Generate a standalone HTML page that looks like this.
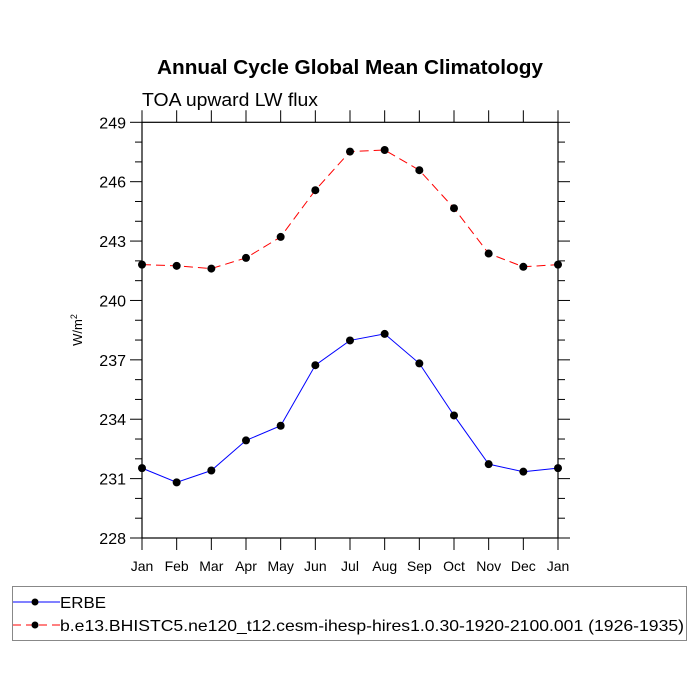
<!DOCTYPE html>
<html><head><meta charset="utf-8"><style>body{margin:0;background:#fff}svg{display:block}</style></head>
<body>
<svg id="chart" width="700" height="700" xmlns="http://www.w3.org/2000/svg" font-family="Liberation Sans, sans-serif">
<rect width="700" height="700" fill="#fff"/>
<text x="350" y="74" text-anchor="middle" font-size="20" font-weight="bold" textLength="386" lengthAdjust="spacingAndGlyphs">Annual Cycle Global Mean Climatology</text>
<text x="142" y="106" font-size="18" textLength="176" lengthAdjust="spacingAndGlyphs">TOA upward LW flux</text>
<text transform="translate(82,330) rotate(-90)" text-anchor="middle" font-size="13">W/m<tspan dy="-5" font-size="9">2</tspan></text>
<g id="axes"></g>
<g id="series"></g>
<g>
<rect x="12.5" y="586.5" width="674" height="54" fill="none" stroke="#888" stroke-width="1"/>
<g>
<line x1="13" y1="602" x2="60" y2="602" stroke="blue" stroke-width="1"/>
<circle cx="35" cy="602" r="3.5" fill="#000"/>
<text x="60" y="608" font-size="16" textLength="46" lengthAdjust="spacingAndGlyphs">ERBE</text>
</g>
<g>
<line x1="13" y1="625" x2="60" y2="625" stroke="red" stroke-width="1" stroke-dasharray="8,5"/>
<circle cx="35" cy="625" r="3.5" fill="#000"/>
<text x="60" y="631" font-size="16" textLength="624" lengthAdjust="spacingAndGlyphs">b.e13.BHISTC5.ne120_t12.cesm-ihesp-hires1.0.30-1920-2100.001 (1926-1935)</text>
</g>
</g>
</svg>
<script>
const months = ["Jan","Feb","Mar","Apr","May","Jun","Jul","Aug","Sep","Oct","Nov","Dec","Jan"];
const erbeValues = [231.53,230.81,231.41,232.93,233.67,236.73,237.98,238.31,236.82,234.19,231.73,231.35,231.53];
const modelValues = [241.81,241.75,241.61,242.15,243.21,245.57,247.52,247.60,246.58,244.66,242.37,241.70,241.81];
const yTickLabels = [228,231,234,237,240,243,246,249];

const NS="http://www.w3.org/2000/svg";
const L=142,R=558,T=122.3,B=538,yMin=228,yMax=249;
const xs=i=>L+(R-L)*i/(months.length-1);
const ys=v=>B-(v-yMin)/(yMax-yMin)*(B-T);
function mk(tag,attrs,parent){const e=document.createElementNS(NS,tag);for(const k in attrs)e.setAttribute(k,attrs[k]);parent.appendChild(e);return e;}
const axes=document.getElementById('axes');
const frame=mk('rect',{x:L,y:T,width:R-L,height:B-T,fill:'none',stroke:'#000','stroke-width':1.2},axes);


for(let v=yMin;v<=yMax;v++){
  const major=(v-yMin)%3===0;const len=major?12:7;const y=ys(v);
  mk('line',{x1:L-len,y1:y,x2:L,y2:y,stroke:'#000','stroke-width':1},axes);
  mk('line',{x1:R,y1:y,x2:R+len,y2:y,stroke:'#000','stroke-width':1},axes);
}
yTickLabels.forEach(v=>{
  const t=mk('text',{x:L-16,y:ys(v)+6,'text-anchor':'end','font-size':16},axes);
  t.textContent=v;
  
  
});
months.forEach((m,i)=>{
  const x=xs(i);
  mk('line',{x1:x,y1:T-12,x2:x,y2:T,stroke:'#000','stroke-width':1},axes);
  mk('line',{x1:x,y1:B,x2:x,y2:B+12,stroke:'#000','stroke-width':1},axes);
  const t=mk('text',{x:x,y:B+33,'text-anchor':'middle','font-size':14},axes);
  t.textContent=m;
  
  
});
const ser=document.getElementById('series');
function draw(vals,color,dash,name){
  const g=mk('g',{},ser);
  
  
  const pts=vals.map((v,i)=>xs(i)+','+ys(v)).join(' ');
  const a={points:pts,fill:'none',stroke:color,'stroke-width':1};
  if(dash)a['stroke-dasharray']=dash;
  mk('polyline',a,g);
  vals.forEach((v,i)=>{
    const c=mk('circle',{cx:xs(i),cy:ys(v),r:4,fill:'#000'},g);
    
    
  });
}
draw(modelValues,'red','9,5','model-series');
draw(erbeValues,'blue',null,'erbe-series');
</script>
</body></html>
